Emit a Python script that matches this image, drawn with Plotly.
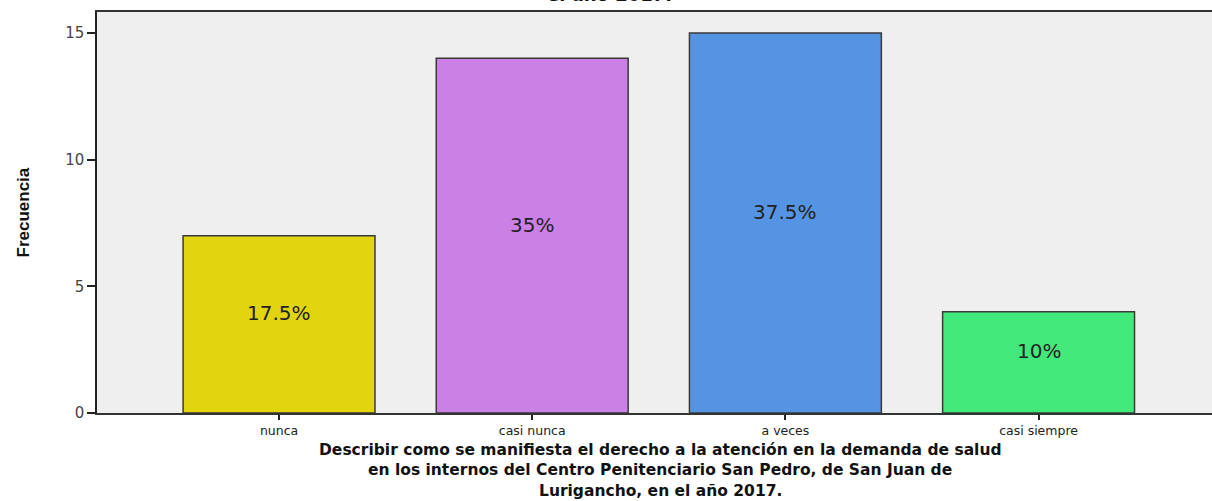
import plotly.graph_objects as go

categories = ["nunca", "casi nunca", "a veces", "casi siempre"]
frequencies = [7, 14, 15, 4]
percent_labels = ["17.5%", "35%", "37.5%", "10%"]
bar_colors = ["#e2d40f", "#cb80e5", "#5594e3", "#42e87a"]
y_ticks = [0, 5, 10, 15]

x_title_lines = [
    "Describir como se manifiesta el derecho a la atención en la demanda de salud",
    "en los internos del Centro Penitenciario San Pedro, de San Juan de",
    "Lurigancho, en el año 2017.",
]
top_title_tail = "el año 2017."

fig = go.Figure()
fig.add_trace(go.Bar(
    x=list(range(len(categories))),
    y=frequencies,
    width=0.758,
    marker=dict(color=bar_colors, line=dict(color="#3a3a3a", width=1.5)),
    hoverinfo="skip",
))

annotations = []
for i, (v, lab) in enumerate(zip(frequencies, percent_labels)):
    annotations.append(dict(
        x=i, y=v / 2, xref="x", yref="y", text=lab, showarrow=False,
        yshift=11, font=dict(family="DejaVu Sans", size=20, color="#222222"),
    ))

annotations.append(dict(
    x=0, y=0.5, xref="paper", yref="paper", xanchor="center", xshift=-74,
    text="<b>Frecuencia</b>", textangle=-90, showarrow=False,
    font=dict(family="Liberation Sans Narrow, Arial", size=17, color="#111111"),
))
for k, line in enumerate(x_title_lines):
    annotations.append(dict(
        x=0.505, y=0, xref="paper", yref="paper", yanchor="middle", borderpad=0,
        yshift=-36.5 - 20.5 * k, text="<b>" + line + "</b>", showarrow=False,
        font=dict(family="DejaVu Sans", size=15.5, color="#111111"),
    ))
annotations.append(dict(
    x=0.46, y=1, xref="paper", yref="paper", yanchor="bottom", yshift=5,
    text="<b>" + top_title_tail + "</b>", showarrow=False,
    font=dict(family="DejaVu Sans", size=18, color="#111111"),
))

fig.update_layout(
    width=1212, height=501,
    margin=dict(l=97, r=0, t=12, b=88),
    paper_bgcolor="white",
    plot_bgcolor="#efefef",
    showlegend=False,
    annotations=annotations,
    xaxis=dict(
        range=[-0.719, 3.685],
        tickmode="array", tickvals=list(range(len(categories))), ticktext=categories,
        ticks="outside", ticklen=5, tickcolor="#222222", tickwidth=1.5,
        showline=True, linecolor="#333333", linewidth=1.5, mirror=True,
        showgrid=False, zeroline=False,
        tickfont=dict(family="DejaVu Sans", size=12.5, color="#222222"),
        fixedrange=True,
    ),
    yaxis=dict(
        range=[0, 15.83],
        tickmode="array", tickvals=y_ticks,
        ticks="outside", ticklen=8, tickcolor="#222222", tickwidth=1.5,
        showline=True, linecolor="#222222", linewidth=1.5,
        showgrid=False, zeroline=False,
        tickfont=dict(family="DejaVu Sans", size=15, color="#444444"),
        fixedrange=True,
    ),
)

fig.write_html("out.html")
